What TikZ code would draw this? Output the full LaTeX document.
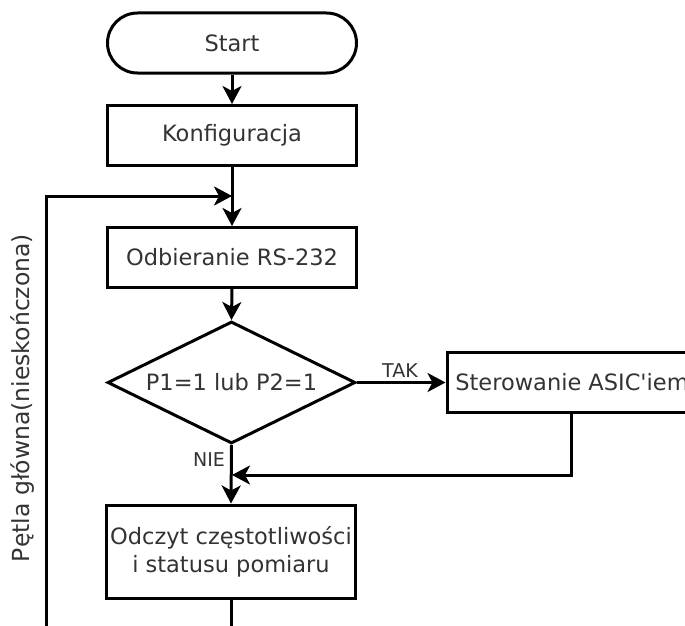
\documentclass[tikz,border=0pt]{standalone}
\usepackage{fontspec}
\setmainfont{DejaVu Sans}[Ligatures=TeXOff]
\usetikzlibrary{shapes.geometric,arrows.meta}
\begin{document}
\begin{tikzpicture}[x=1pt,y=-1pt,
  every node/.style={text=black!80},
  base/.style={draw=black,line width=3pt,inner sep=0pt,font=\fontsize{22.5}{28}\selectfont,align=center},
  procbox/.style={base,rectangle,minimum width=249pt,minimum height=60pt},
  termbox/.style={base,rectangle,rounded corners=30pt,minimum width=249pt,minimum height=60pt},
  decbox/.style={base,diamond,shape aspect=2.03,minimum width=248pt,minimum height=122pt},
  lbl/.style={font=\fontsize{19}{22}\selectfont,inner sep=0pt},
  flow/.style={line width=3pt,-{Stealth[length=18pt,width=19pt,inset=5pt]}},
  wire/.style={line width=3pt}]
  \useasboundingbox (0,0) rectangle (685,626);
  \clip (0,0) rectangle (685,626);

  % process chain
  \node[termbox] (start) at (232,43) {Start};
  \node[procbox] (konf) at (232,135.5) {Konfiguracja};
  \node[procbox] (odb) at (232,257.5) {Odbieranie RS-232};
  \node[decbox] (dec) at (231.5,382.5) {P1=1 lub P2=1};
  \node[procbox,minimum width=250pt] (ster) at (572,382.5) {Sterowanie ASIC'iem};
  \node[procbox,minimum height=93pt] (odcz) at (231,551.5) {Odczyt częstotliwości\\i statusu pomiaru};

  % helper points for the loops
  \coordinate (loopin) at (232,196);
  \coordinate (loopcorner) at (46,196);
  \coordinate (loopend) at (46,630);
  \coordinate (merge) at (232,475);
  \coordinate (stercorner) at (571,475);
  \coordinate (outend) at (231,630);

  % connectors
  \draw[flow] (start.south) -- (konf.north);
  \draw[flow] (konf.south) -- (odb.north);
  \draw[flow] (odb.south) -- (dec.north);
  \draw[flow] (dec.east) -- (ster.west);
  \node[lbl] (taklbl) at (400,371) {TAK};
  \draw[flow] (dec.south) -- (odcz.north);
  \node[lbl] (nielbl) at (209,460) {NIE};
  \draw[flow] (ster.south -| stercorner) -- (stercorner) -- (merge);
  \draw[wire] (odcz.south) -- (outend);
  \draw[flow] (loopend) -- (loopcorner) -- (loopin);
  \node[rotate=90,font=\fontsize{23.5}{28}\selectfont,inner sep=0pt] (looplabel) at (23,398) {Pętla główna(nieskończona)};
\end{tikzpicture}
\end{document}
